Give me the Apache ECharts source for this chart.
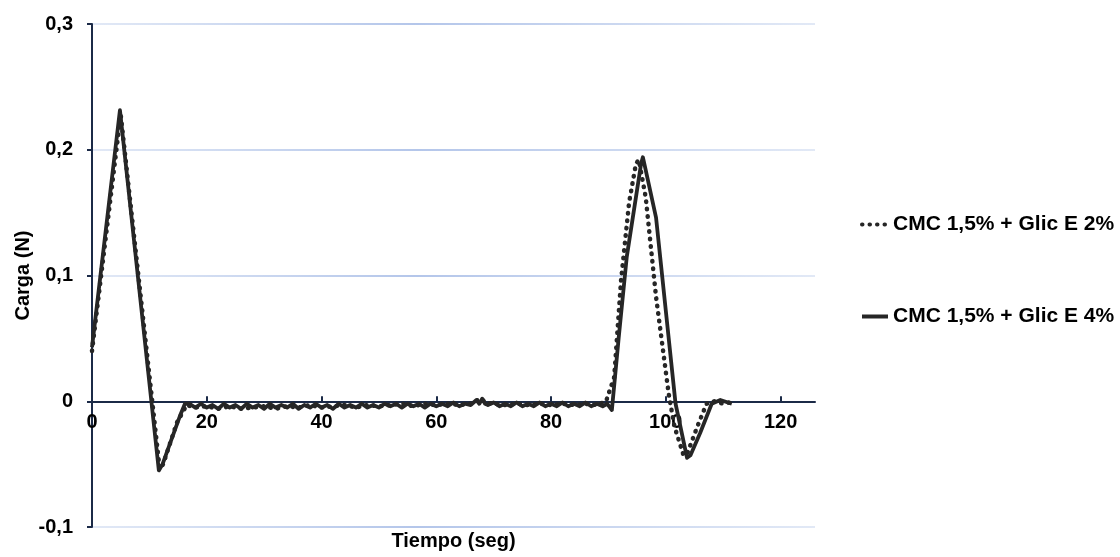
<!DOCTYPE html>
<html>
<head>
<meta charset="utf-8">
<script src="https://cdn.jsdelivr.net/npm/echarts@6/dist/echarts.min.js"></script>
<style>
  html, body { margin: 0; padding: 0; background: #fff; }
  #main { width: 1120px; height: 557px; }
</style>
</head>
<body>
<div id="main"></div>
<script>
// Carga vs tiempo, dos formulaciones
var seriesNames = ['CMC 1,5% + Glic E 2%', 'CMC 1,5% + Glic E 4%'];
var xTicks = [0, 20, 40, 60, 80, 100, 120];

var tiempo2 = [0, 5.0, 11.8, 12.4, 14.8, 16.5, 18, 20, 22, 24, 26, 28, 30, 32, 34, 36, 38, 40,
  42, 44, 46, 48, 50, 52, 54, 56, 58, 60, 62, 64, 66, 67.3, 67.9, 68.5, 70, 72, 74, 76, 78,
  80, 82, 84, 86, 88, 89.6, 90.1, 91.0, 92.2, 93.6, 94.8, 95.3, 96.5, 98.3, 100.5, 101.5,
  103.1, 103.7, 105.5, 107.1, 108.5, 110, 111];
var carga2 = [0.040, 0.228, -0.054, -0.050, -0.017, -0.003, -0.005, -0.004, -0.006, -0.004,
  -0.006, -0.005, -0.004, -0.006, -0.004, -0.005, -0.003, -0.005, -0.004, -0.003, -0.005,
  -0.003, -0.004, -0.003, -0.002, -0.004, -0.002, -0.003, -0.002, -0.003, -0.002, 0.001,
  0.002, -0.001, -0.002, -0.003, -0.002, -0.003, -0.002, -0.003, -0.002, -0.003, -0.002,
  -0.003, 0.000, 0.007, 0.019, 0.096, 0.158, 0.189, 0.192, 0.162, 0.083, 0.006, -0.020,
  -0.043, -0.042, -0.020, -0.002, 0.000, -0.002, -0.001];

var tiempo4 = [0, 4.87, 11.65, 12.3, 15.3, 16.2, 17, 18, 19, 20, 21, 22, 23, 24, 25, 26, 27,
  28, 29, 30, 31, 32, 33, 34, 35, 36, 37, 38, 39, 40, 41, 42, 43, 44, 45, 46, 47, 48, 49, 50,
  51, 52, 53, 54, 55, 56, 57, 58, 59, 60, 61, 62, 63, 64, 65, 66, 67, 67.5, 68, 68.5, 69, 70,
  71, 72, 73, 74, 75, 76, 77, 78, 79, 80, 81, 82, 83, 84, 85, 86, 87, 88, 89, 89.8, 90.6,
  91.8, 93.2, 95.7, 96.0, 96.3, 98.3, 101.7, 103.7, 104.3, 106, 108, 109.5, 111.5];
var carga4 = [0.043, 0.2315, -0.055, -0.050, -0.012, -0.002, -0.002, -0.005, -0.002, -0.005,
  -0.003, -0.006, -0.002, -0.005, -0.003, -0.006, -0.002, -0.005, -0.003, -0.006, -0.002,
  -0.005, -0.003, -0.005, -0.002, -0.006, -0.003, -0.005, -0.002, -0.005, -0.003, -0.006,
  -0.002, -0.005, -0.003, -0.005, -0.002, -0.005, -0.003, -0.005, -0.002, -0.004, -0.002,
  -0.005, -0.002, -0.004, -0.002, -0.005, -0.002, -0.004, -0.002, -0.004, -0.001, -0.004,
  -0.002, -0.003, 0.001, -0.002, 0.002, -0.002, -0.003, -0.001, -0.004, -0.002, -0.004,
  -0.001, -0.004, -0.002, -0.004, -0.001, -0.004, -0.002, -0.004, -0.001, -0.004, -0.002,
  -0.004, -0.001, -0.004, -0.002, -0.004, -0.002, -0.007, 0.051, 0.115, 0.189, 0.194, 0.188,
  0.146, -0.002, -0.045, -0.043, -0.025, -0.002, 0.001, -0.002];

function pairs(xs, ys) {
  return xs.map(function (x, i) { return [x, ys[i]]; });
}

var fontFam = '"Liberation Sans", Arial, sans-serif';
var axisColor = '#1b2a47';
var lineColor = '#262626';
var boldText = { fontFamily: fontFam, fontWeight: 'bold', fontSize: 20, color: '#000' };

// plot box: top 24, bottom 527 -> y range 0.4 over 503 px; x axis sits at y = 0
var plotH = 503;
var yMin = -0.1, yMax = 0.3;
var xAxisOffset = -plotH * (0 - yMin) / (yMax - yMin);

var myChart = echarts.init(document.getElementById('main'));
myChart.setOption({
  animation: false,
  textStyle: { fontFamily: fontFam },
  grid: { left: 92, right: 305, top: 24, bottom: 30, containLabel: false, outerBoundsMode: 'none' },
  legend: {
    orient: 'vertical',
    left: 855,
    top: 209,
    itemGap: 71,
    itemWidth: 26,
    itemHeight: 14,
    itemStyle: { opacity: 0 },
    lineStyle: { width: 4 },
    data: seriesNames,
    textStyle: { fontFamily: fontFam, fontWeight: 'bold', fontSize: 21, color: '#000' }
  },
  xAxis: {
    type: 'value',
    min: 0,
    max: 126,
    interval: 20,
    offset: xAxisOffset,
    name: 'Tiempo (seg)',
    nameLocation: 'middle',
    nameGap: 130,
    nameMoveOverlap: false,
    nameTextStyle: boldText,
    axisLine: { onZero: false, lineStyle: { color: axisColor, width: 2 } },
    axisTick: { show: true, inside: true, length: 5, customValues: xTicks,
      lineStyle: { color: axisColor, width: 2 } },
    axisLabel: Object.assign({ customValues: xTicks, margin: 11 }, boldText),
    splitLine: { show: false }
  },
  yAxis: {
    type: 'value',
    min: yMin,
    max: yMax,
    interval: 0.1,
    name: 'Carga (N)',
    nameLocation: 'middle',
    nameGap: 59,
    nameMoveOverlap: false,
    nameTextStyle: boldText,
    axisLine: { show: true, onZero: false, lineStyle: { color: axisColor, width: 2 } },
    axisTick: { show: true, length: 5, lineStyle: { color: axisColor, width: 2 } },
    axisLabel: Object.assign({
      margin: 19,
      formatter: function (v) {
        return Math.abs(v) < 1e-9 ? '0' : v.toFixed(1).replace('.', ',');
      }
    }, boldText),
    splitLine: {
      show: true,
      lineStyle: {
        width: 2,
        color: new echarts.graphic.LinearGradient(0, 0, 1, 0, [
          { offset: 0, color: '#e2e9f6' },
          { offset: 0.45, color: '#b4c6ea' },
          { offset: 1, color: '#e2e9f6' }
        ])
      }
    }
  },
  series: [{
    name: seriesNames[0],
    type: 'line',
    data: pairs(tiempo2, carga2),
    symbol: 'none',
    color: lineColor,
    lineStyle: { color: lineColor, width: 4.5, type: [0.5, 7], cap: 'round', join: 'round' }
  }, {
    name: seriesNames[1],
    type: 'line',
    data: pairs(tiempo4, carga4),
    symbol: 'none',
    color: lineColor,
    lineStyle: { color: lineColor, width: 3.8, join: 'round' }
  }]
});
</script>
</body>
</html>
